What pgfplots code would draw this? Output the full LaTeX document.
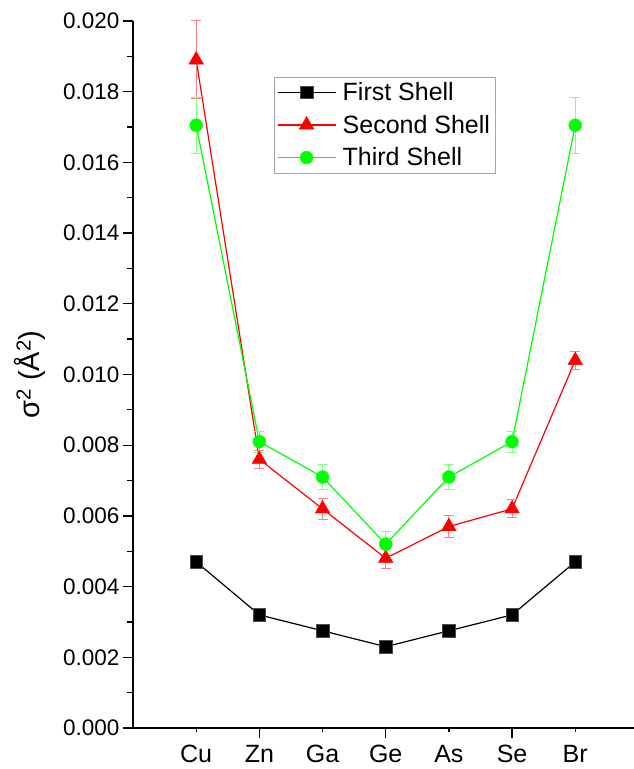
\documentclass[border=0pt]{standalone}
\usepackage{fontspec}
\setmainfont{Liberation Sans}
\usepackage{pgfplots}
\pgfplotsset{compat=1.18}
\definecolor{pure green}{RGB}{0,255,0}
\definecolor{pure red}{RGB}{255,0,0}

\pgfplotstableread{
x y e
0 0.0047 0
1 0.0032 0
2 0.00275 0
3 0.0023 0
4 0.00275 0
5 0.0032 0
6 0.0047 0
}\firstshell
\pgfplotstableread{
x y e
0 0.0189 0.0011
1 0.0076 0.00025
2 0.0062 0.0003
3 0.0048 0.0003
4 0.0057 0.0003
5 0.0062 0.00025
6 0.0104 0.00025
}\secondshell
\pgfplotstableread{
x y e
0 0.01705 0.0008
1 0.0081 0.0003
2 0.0071 0.00035
3 0.0052 0.00035
4 0.0071 0.00035
5 0.0081 0.0003
6 0.01705 0.0008
}\thirdshell

\begin{document}
\begin{tikzpicture}[x=1pt,y=1pt]
\useasboundingbox (-133,-41) rectangle (501,728);
\begin{axis}[
  at={(0,0)}, anchor=south west,
  scale only axis, width=501pt, height=707pt,
  xmin=-1, xmax=6.93, ymin=0, ymax=0.020,
  axis x line*=bottom, axis y line*=left,
  axis line style={-, line width=1.3pt},
  tick align=outside,
  tick style={black, line width=1.3pt},
  major tick length=10pt, minor tick length=6pt,
  xtick={1,3,5},
  xticklabels={Zn,Ge,Se},
  extra x ticks={0,2,4,6},
  extra x tick labels={Cu,Ga,As,Br},
  extra x tick style={major tick length=4pt, xticklabel style={yshift=-6pt}},
  ytick={0,0.002,...,0.020},
  minor y tick num=1,
  scaled y ticks=false,
  yticklabel style={font=\fontsize{22.5}{26}\selectfont,
    /pgf/number format/.cd, fixed, fixed zerofill, precision=3},
  /pgf/number format/assume math mode=true,
  xticklabel style={font=\fontsize{25}{28}\selectfont, yshift=-4pt},
  ylabel={σ\textsuperscript{2} (Å\textsuperscript{2})},
  ylabel style={font=\fontsize{29}{32}\selectfont,
    at={(axis description cs:0,0.5)}, anchor=center, yshift=103pt},
  legend style={at={(0.281,0.921)}, anchor=north west, draw=gray!70,
    font=\fontsize{25}{30}\selectfont, inner xsep=3pt, inner ysep=3pt,
    row sep=8pt, nodes={inner sep=2.5pt}},
  legend cell align=left,
  legend image code/.code={\draw[mark repeat=2,mark phase=2]
    plot coordinates {(0pt,0pt) (29pt,0pt) (58pt,0pt)};},
]
\addplot[black, line width=1.2pt, mark=square*, mark size=6.3pt,
  mark options={fill=black, draw=gray!60!black, line width=0.5pt}]
  table[x=x,y=y] {\firstshell};
\addlegendentry{\hspace{4pt}First Shell}
\addplot[pure red, line width=1.2pt, mark=triangle*, mark size=8.5pt,
  mark options={fill=pure red, draw=pure red, line width=0.3pt},
  error bars/.cd, y dir=both, y explicit,
  error bar style={pure red!50, line width=1pt},
  error mark options={rotate=90, mark size=5pt, pure red!50, line width=1pt}]
  table[x=x,y=y,y error=e] {\secondshell};
\addlegendentry{\hspace{4pt}Second Shell}
\addplot[pure green, line width=1.2pt, mark=*, mark size=6.5pt,
  mark options={fill=pure green, draw=pure green, line width=0.3pt},
  error bars/.cd, y dir=both, y explicit,
  error bar style={pure green!50, line width=1pt},
  error mark options={rotate=90, mark size=5pt, pure green!50, line width=1pt}]
  table[x=x,y=y,y error=e] {\thirdshell};
\addlegendentry{\hspace{4pt}Third Shell}
\end{axis}
\end{tikzpicture}
\end{document}
